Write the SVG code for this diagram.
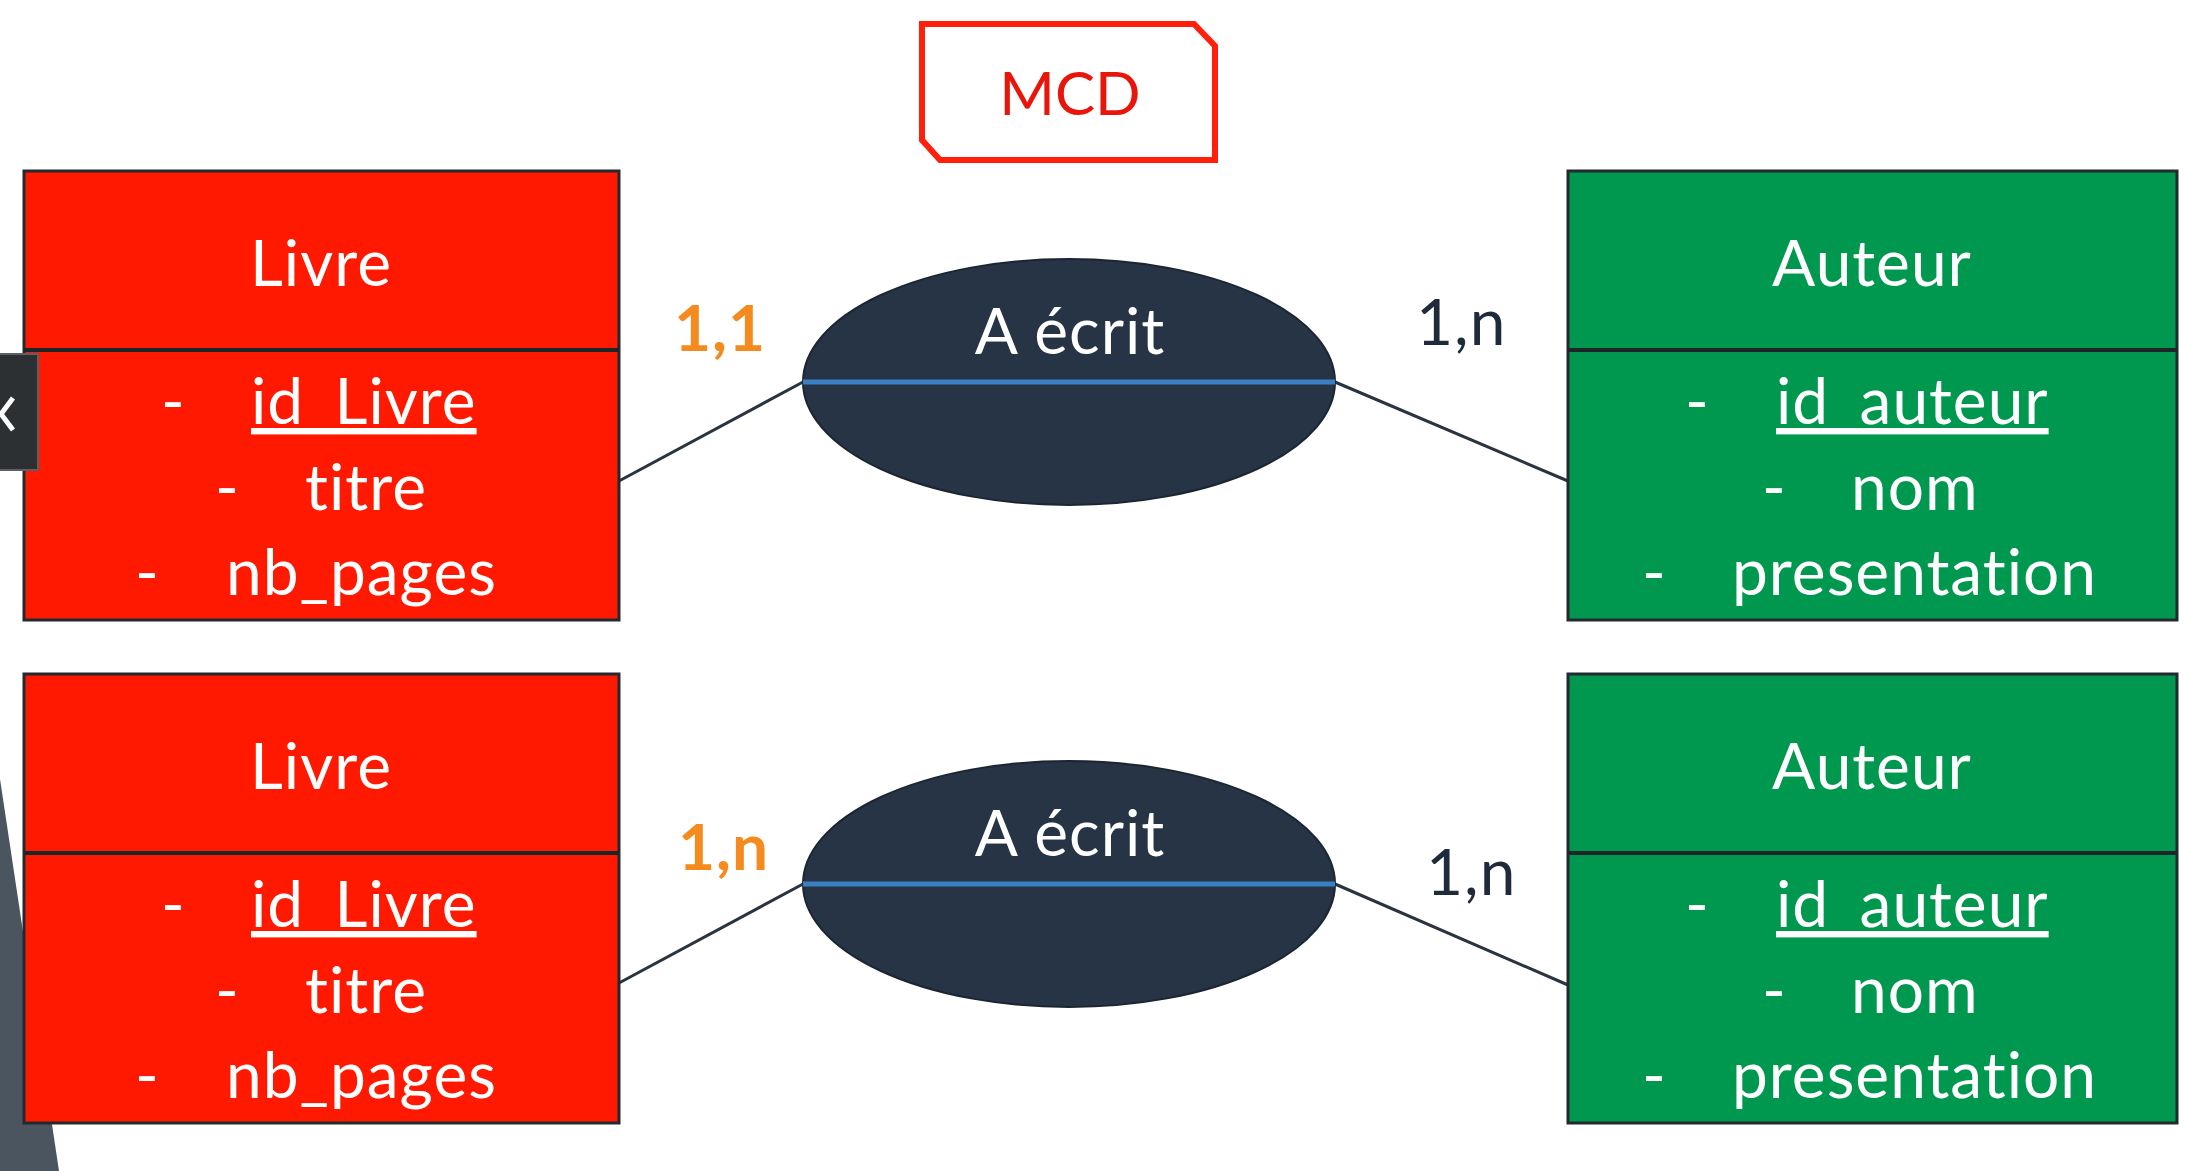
<svg xmlns="http://www.w3.org/2000/svg" width="2201" height="1171" viewBox="0 0 2201 1171">
<style>
  .t { font-family: Lato, "Open Sans", "Liberation Sans", sans-serif; font-size: 64px; letter-spacing: 1px; font-variant-ligatures: none; }
  .w { fill: #ffffff; }
  .ent { stroke: #222a30; stroke-width: 3; }
  .red { fill: #ff1900; }
  .green { fill: #00984f; }
  .div { stroke: #1e2528; stroke-width: 4; }
  .conn { stroke: #2a3440; stroke-width: 3; fill: none; }
  .ell { fill: #263445; stroke: #1c2633; stroke-width: 2; }
  .mid { stroke: #3a7fc2; stroke-width: 5; }
  .c { text-anchor: middle; }
  .card1 { fill: #f58a1f; font-weight: bold; }
  .card2 { fill: #1f2a3a; }
</style>
<rect width="2201" height="1171" fill="#ffffff"/>
<polygon points="0,779 0,1171 59,1171" fill="#4a5560"/>
<g id="mcd-label">
  <path d="M922,24 L1194,24 L1215,46 L1215,160 L940,160 L922,140 Z" fill="#ffffff" stroke="#ff1f0a" stroke-width="6"/>
  <text class="t c" x="1070" y="115" fill="#e8160a" style="font-size:60px;letter-spacing:0">MCD</text>
</g>
<g id="connectors">
  <line class="conn" x1="619" y1="481" x2="803" y2="382"/>
  <line class="conn" x1="1335" y1="382" x2="1568" y2="481"/>
  <line class="conn" x1="619" y1="983" x2="803" y2="884"/>
  <line class="conn" x1="1335" y1="884" x2="1568" y2="985"/>
  <text class="t card1" x="674" y="351">1,1</text>
  <text class="t card2" x="1416" y="345">1,n</text>
  <text class="t card1" x="678" y="870">1,n</text>
  <text class="t card2" x="1426" y="895">1,n</text>
</g>
<g id="livre-1">
  <rect class="ent red" x="24" y="171" width="595" height="449"/>
  <line class="div" x1="24" y1="350" x2="619" y2="350"/>
  <text class="t w c" x="321" y="286">Livre</text>
  <text class="t w" x="161" y="424">-</text>
  <text class="t w" x="251" y="424" text-decoration="underline">id_Livre</text>
  <text class="t w" x="215" y="510">-</text>
  <text class="t w" x="305" y="510">titre</text>
  <text class="t w" x="135" y="595">-</text>
  <text class="t w" x="226" y="595">nb_pages</text>
</g>
<g id="a-ecrit-1">
  <ellipse class="ell" cx="1069" cy="382" rx="266" ry="123"/>
  <line class="mid" x1="803" y1="382" x2="1335" y2="382"/>
  <text class="t w c" x="1070" y="354">A écrit</text>
</g>
<g id="auteur-1">
  <rect class="ent green" x="1568" y="171" width="609" height="449"/>
  <line class="div" x1="1568" y1="350" x2="2177" y2="350"/>
  <text class="t w c" x="1872" y="286">Auteur</text>
  <text class="t w" x="1685" y="424">-</text>
  <text class="t w" x="1776" y="424" text-decoration="underline">id_auteur</text>
  <text class="t w" x="1762" y="510">-</text>
  <text class="t w" x="1851" y="510">nom</text>
  <text class="t w" x="1642" y="595">-</text>
  <text class="t w" x="1732" y="595">presentation</text>
</g>
<g id="livre-2" transform="translate(0,503)">
  <rect class="ent red" x="24" y="171" width="595" height="449"/>
  <line class="div" x1="24" y1="350" x2="619" y2="350"/>
  <text class="t w c" x="321" y="286">Livre</text>
  <text class="t w" x="161" y="424">-</text>
  <text class="t w" x="251" y="424" text-decoration="underline">id_Livre</text>
  <text class="t w" x="215" y="510">-</text>
  <text class="t w" x="305" y="510">titre</text>
  <text class="t w" x="135" y="595">-</text>
  <text class="t w" x="226" y="595">nb_pages</text>
</g>
<g id="a-ecrit-2" transform="translate(0,502)">
  <ellipse class="ell" cx="1069" cy="382" rx="266" ry="123"/>
  <line class="mid" x1="803" y1="382" x2="1335" y2="382"/>
  <text class="t w c" x="1070" y="354">A écrit</text>
</g>
<g id="auteur-2" transform="translate(0,503)">
  <rect class="ent green" x="1568" y="171" width="609" height="449"/>
  <line class="div" x1="1568" y1="350" x2="2177" y2="350"/>
  <text class="t w c" x="1872" y="286">Auteur</text>
  <text class="t w" x="1685" y="424">-</text>
  <text class="t w" x="1776" y="424" text-decoration="underline">id_auteur</text>
  <text class="t w" x="1762" y="510">-</text>
  <text class="t w" x="1851" y="510">nom</text>
  <text class="t w" x="1642" y="595">-</text>
  <text class="t w" x="1732" y="595">presentation</text>
</g>
<g id="nav-button">
  <rect x="-2" y="354" width="40" height="116" fill="#2d3033" stroke="#5c6166" stroke-width="2"/>
  <polyline points="13,398 1,414 13,430" fill="none" stroke="#ffffff" stroke-width="5"/>
</g>
</svg>
